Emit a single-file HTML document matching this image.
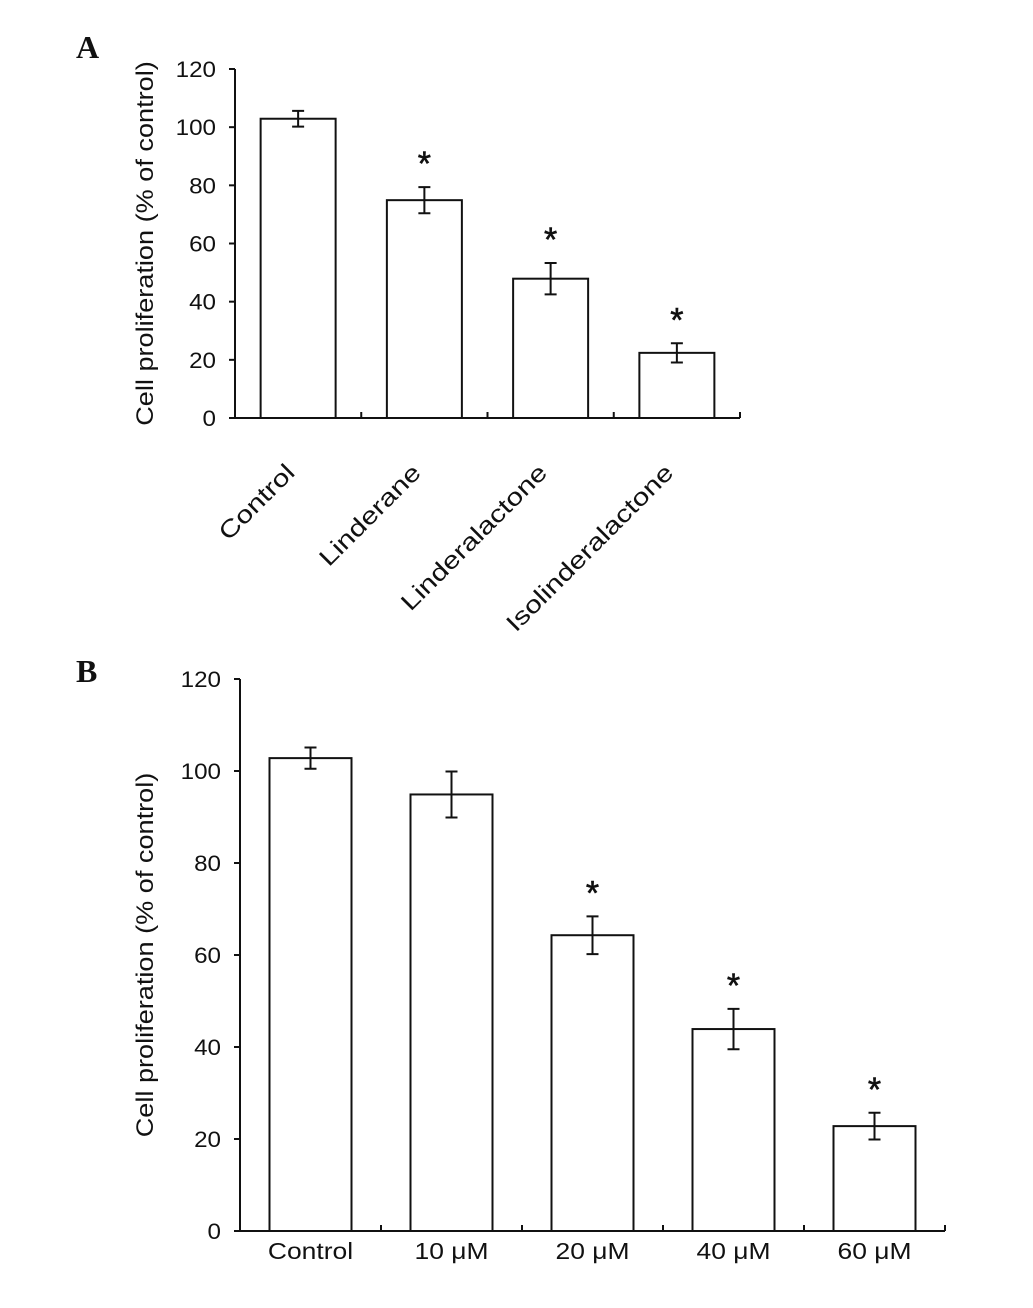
<!DOCTYPE html>
<html><head><meta charset="utf-8"><style>
body{margin:0;background:#fff}
svg text{font-family:"Liberation Sans",Arial,sans-serif;fill:#111}
</style></head><body>
<svg id="s" width="1033" height="1303" viewBox="0 0 1033 1303" xmlns="http://www.w3.org/2000/svg">
<text x="76" y="58" style="font-family:'Liberation Serif',serif;font-weight:bold;font-size:32px">A</text>
<text x="76" y="682" style="font-family:'Liberation Serif',serif;font-weight:bold;font-size:32px">B</text>
<g id="ga"></g>
<g id="gb"></g>
</svg>
<script>
const catsA = ["Control","Linderane","Linderalactone","Isolinderalactone"];
const valsA = [102.9, 74.9, 47.9, 22.4];
const errA = [2.7, 4.5, 5.4, 3.3];
const sigA = [false, true, true, true];
const catsB = ["Control","10 μM","20 μM","40 μM","60 μM"];
const valsB = [102.8, 94.9, 64.3, 43.9, 22.8];
const errB = [2.3, 5.0, 4.1, 4.4, 2.9];
const sigB = [false, false, true, true, true];
const ticks = [0,20,40,60,80,100,120];
const NS="http://www.w3.org/2000/svg";
function el(p,t,a,txt){const e=document.createElementNS(NS,t);for(const k in a)e.setAttribute(k,a[k]);if(txt!==undefined)e.textContent=txt;p.appendChild(e);return e;}
function chart(g,cats,vals,errs,sig,o){
  const y=v=>o.y0-(v/120)*(o.y0-o.y120);
  const cw=(o.x1-o.x0)/cats.length;
  const cx=i=>o.x0+cw*(i+0.5);
  let ax=el(g,'line',{x1:o.x0,y1:o.y120,x2:o.x0,y2:o.y0,stroke:'#111','stroke-width':2});
  
  ax=el(g,'line',{x1:o.x0,y1:o.y0,x2:o.x1,y2:o.y0,stroke:'#111','stroke-width':2});
  
  ticks.forEach(t=>{
    const tl=el(g,'line',{x1:o.x0-6,x2:o.x0,y1:y(t),y2:y(t),stroke:'#111','stroke-width':2});
    
    const tx=el(g,'text',{x:0,y:0,'text-anchor':'end','font-size':22,transform:`translate(${o.x0-19},${y(t)+8}) scale(1.1,1)`},String(t));
    
  });
  for(let i=1;i<=cats.length;i++){
    const tl=el(g,'line',{x1:o.x0+cw*i,x2:o.x0+cw*i,y1:o.y0,y2:o.y0-6,stroke:'#111','stroke-width':2});
    
  }
  cats.forEach((c,i)=>{
    const b=el(g,'rect',{x:cx(i)-o.bw/2,y:y(vals[i]),width:o.bw,height:o.y0-y(vals[i]),fill:'#fff',stroke:'#111','stroke-width':2});
    
    const x=cx(i),t=y(vals[i]+errs[i]),bo=y(vals[i]-errs[i]);
    const eg=el(g,'path',{d:`M${x},${t}V${bo}M${x-6},${t}H${x+6}M${x-6},${bo}H${x+6}`,stroke:'#111','stroke-width':2,fill:'none'});
    
    if(sig[i]){
      const s=el(g,'text',{x:x,y:t-12,'text-anchor':'middle','font-size':34,'stroke':'#111','stroke-width':0.6},'*');
      
    }
    let lb;
    if(o.rot){
      lb=el(g,'text',{x:0,y:0,'text-anchor':'end','font-size':24,transform:`translate(${x-2},${o.y0+56}) rotate(-45) scale(1.24,1)`},c);
    }else{
      lb=el(g,'text',{x:0,y:0,'text-anchor':'middle','font-size':23,transform:`translate(${x},${o.y0+28}) scale(1.15,1)`},c);
    }
    
  });
  const yt=el(g,'text',{x:0,y:0,'text-anchor':'middle','font-size':24,transform:`translate(${o.tx},${(o.y0+o.y120)/2}) rotate(-90) scale(1.13,1)`},'Cell proliferation (% of control)');
  
}
chart(document.getElementById('ga'),catsA,valsA,errA,sigA,{x0:235,x1:740,y0:418,y120:69,bw:75,rot:true,tx:153});
chart(document.getElementById('gb'),catsB,valsB,errB,sigB,{x0:240,x1:945,y0:1231,y120:679,bw:82,rot:false,tx:153});
</script>
</body></html>
